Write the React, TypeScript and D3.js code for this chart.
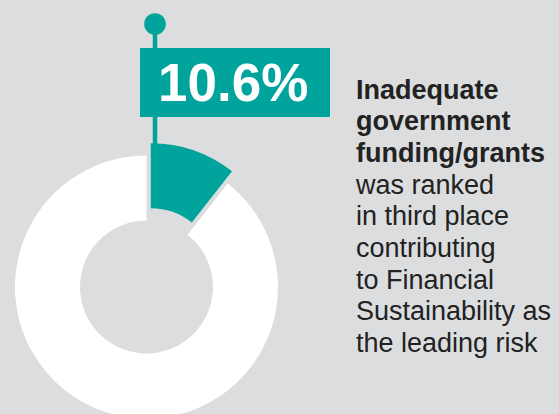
import React from "react";
import * as d3 from "d3";

// share of respondents, teal slice is the highlighted one
const categories = ["Inadequate government funding/grants", "Other"];
const shares = [10.6, 89.4];
const sliceColors = ["#00a49c", "#ffffff"];
const calloutLabel = "10.6%";
const boldLines = ["Inadequate", "government", "funding/grants"];
const plainLines = [
  "was ranked",
  "in third place",
  "contributing",
  "to Financial",
  "Sustainability as",
  "the leading risk",
];

const W = 559;
const H = 414;
const BG = "#dcdddf";
const FONT = "'Liberation Sans', Arial, Helvetica, sans-serif";

export default function App() {
  const cx = 146.5;
  const cy = 287;
  const outerR = 131.5;
  const innerR = 66.5;
  const explode = 13;

  const pie = d3
    .pie<number>()
    .sort(null)
    .startAngle(0)
    .endAngle(2 * Math.PI)
    .value((d) => d);
  const arcs = pie(shares);
  const arc = d3.arc<d3.PieArcDatum<number>>().innerRadius(innerR).outerRadius(outerR);

  const offset = (d: d3.PieArcDatum<number>, i: number) => {
    if (i !== 0) return [0, 0];
    const mid = (d.startAngle + d.endAngle) / 2;
    return [Math.sin(mid) * explode, -Math.cos(mid) * explode];
  };

  const lines = [...boldLines.map((t) => ({ t, b: true })), ...plainLines.map((t) => ({ t, b: false }))];
  const lineH = 31.7;
  const textX = 356;
  const textY0 = 98.5;

  // pin + label
  const pinX = 155;
  const pinY = 24;

  return (
    <svg
      width={W}
      height={H}
      style={{ position: "absolute", left: 0, top: 0, display: "block" }}
    >
      <rect width={W} height={H} fill={BG} />

      <line x1={pinX} x2={pinX} y1={pinY} y2={150} stroke={sliceColors[0]} strokeWidth={4.5} />
      <circle cx={pinX} cy={pinY} r={10.8} fill={sliceColors[0]} />

      <g transform={`translate(${cx},${cy})`}>
        {arcs.map((d, i) => {
          const [dx, dy] = offset(d, i);
          return (
            <path
              key={categories[i]}
              d={arc(d) || ""}
              fill={sliceColors[i]}
              transform={`translate(${dx},${dy})`}
            />
          );
        })}
      </g>

      <rect x={140} y={48} width={190} height={69} fill={sliceColors[0]} />
      <text x={158} y={101} fill="#fff" fontFamily={FONT} fontSize={53} fontWeight="bold">
        {calloutLabel}
      </text>

      <g fontFamily={FONT} fontSize={27} fill="#222">
        {lines.map((l, i) => (
          <text key={i} x={textX} y={textY0 + i * lineH} fontWeight={l.b ? "bold" : "normal"}>
            {l.t}
          </text>
        ))}
      </g>
    </svg>
  );
}
